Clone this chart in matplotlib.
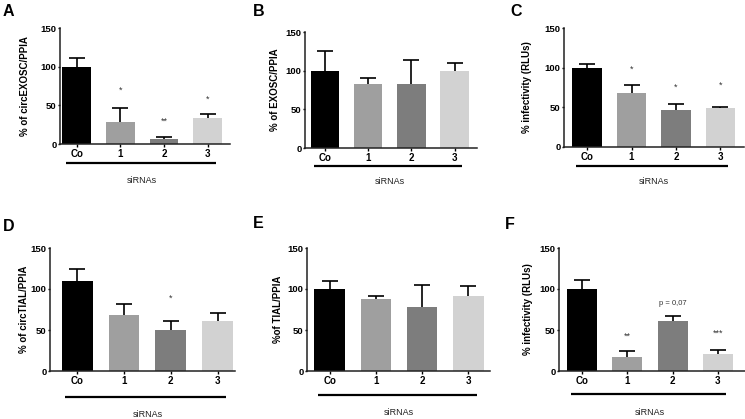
import matplotlib
matplotlib.use("Agg")
import matplotlib.pyplot as plt
import matplotlib.transforms as mtransforms

plt.rcParams['font.family'] = ['Liberation Sans', 'DejaVu Sans']

# data
groups = ['Co', '1', '2', '3']
colors = ['#000000', '#9f9f9f', '#7d7d7d', '#d2d2d2']

a_mean = [100, 28, 6, 34]
a_err = [11, 18, 3.5, 5]
b_mean = [100, 83, 83, 100]
b_err = [25, 7, 31, 10]
c_mean = [100, 68, 47, 49]
c_err = [4.5, 10.5, 7, 2]
d_mean = [110, 68, 50, 61]
d_err = [15, 14, 10.5, 10]
e_mean = [100, 88, 78, 91]
e_err = [10, 3, 27, 13]
f_mean = [100, 17, 61, 21]
f_err = [11, 7, 6, 5]

ylabels = ['% of circEXOSC/PPIA', '% of EXOSC/PPIA', '% infectivity (RLUs)',
           '% of circTIAL/PPIA', '%of TIAL/PPIA', '% infectivity (RLUs)']
letters = ['A', 'B', 'C', 'D', 'E', 'F']

# significance marks: (bar index, y value, text)
a_marks = [(1, 70, '*'), (2, 30, '**'), (3, 58, '*')]
c_marks = [(1, 98, '*'), (2, 75, '*'), (3, 78, '*')]
d_marks = [(2, 89, '*')]
f_marks = [(1, 43, '**'), (2, 82, 'p = 0,07'), (3, 46, '***')]

W, H = 745, 419
fig = plt.figure(figsize=(W / 100, H / 100), dpi=100)

# layout in pixels: left, top, right, bottom, xlim, ylabel x, letter x/y, line offset, text offset
panels = [
    (a_mean, a_err, a_marks, (60, 28, 230, 144), (-0.38, 3.51), 25, (3, 12), 19, 36),
    (b_mean, b_err, [], (305, 32, 477, 148), (-0.46, 3.52), 275, (253, 12), 18, 34),
    (c_mean, c_err, c_marks, (564, 28, 744, 147), (-0.52, 3.53), 527, (510, 12), 19, 35),
    (d_mean, d_err, d_marks, (50, 248, 235, 371), (-0.58, 3.37), 24, (3, 226), 26, 43),
    (e_mean, e_err, [], (307, 248, 490, 371), (-0.49, 3.47), 278, (253, 223), 24, 41),
    (f_mean, f_err, f_marks, (559, 248, 745, 371), (-0.51, 3.6), 528, (505, 224), 23, 41),
]

pos = list(range(len(groups)))
width = 0.66

for i, (mean, err, marks, box, xlim, ylx, lxy, line_off, txt_off) in enumerate(panels):
    l, t, r, b = box
    ax = fig.add_axes([l / W, (H - b) / H, (r - l) / W, (b - t) / H])
    ax.bar(pos, mean, width, color=colors, zorder=2)
    eb = ax.errorbar(pos, mean, yerr=[[0] * 4, err], fmt='none', ecolor='black',
                     elinewidth=1.2, capsize=5.5, capthick=1.2, zorder=1)
    eb[1][0].set_visible(False)

    ax.set_xlim(*xlim)
    ax.set_ylim(0, 150)
    ax.set_yticks([0, 50, 100, 150])
    ax.set_xticks(pos)
    ax.set_xticklabels(groups, fontweight='bold', fontsize=7)
    for lab in ax.get_yticklabels():
        lab.set_fontweight('bold')
        lab.set_fontsize(6.8)
    ax.tick_params(axis='x', length=2.2, width=1, pad=1.5)
    ax.tick_params(axis='y', length=1.6, width=1, pad=0.8)
    for s in ['top', 'right']:
        ax.spines[s].set_visible(False)
    for s in ['left', 'bottom']:
        ax.spines[s].set_linewidth(1.1)
        ax.spines[s].set_color('#222222')

    ax.set_ylabel(ylabels[i], fontweight='bold', fontsize=7, va='center')
    ax.yaxis.set_label_coords((ylx - l) / (r - l), 0.5)

    for k, yv, txt in marks:
        ax.text(k, yv, txt, ha='center', va='center',
                fontsize=5.5 if txt.startswith('p') else 6.5, color='#333333')

    # group underline and label
    tr = ax.get_xaxis_transform() + mtransforms.ScaledTranslation(0, -line_off / 100, fig.dpi_scale_trans)
    ax.plot([-0.25, 3.18], [0, 0], transform=tr, color='black', lw=1.6, clip_on=False,
            solid_capstyle='butt')
    tr2 = ax.get_xaxis_transform() + mtransforms.ScaledTranslation(0, -txt_off / 100, fig.dpi_scale_trans)
    ax.text(1.5, 0, 'siRNAs', transform=tr2, ha='center', va='center', fontsize=6.5, color='#222222')

    fig.text(lxy[0] / W, 1 - lxy[1] / H, letters[i], fontsize=11.5, fontweight='bold',
             ha='left', va='center')

fig.savefig('out.png', dpi=100)
